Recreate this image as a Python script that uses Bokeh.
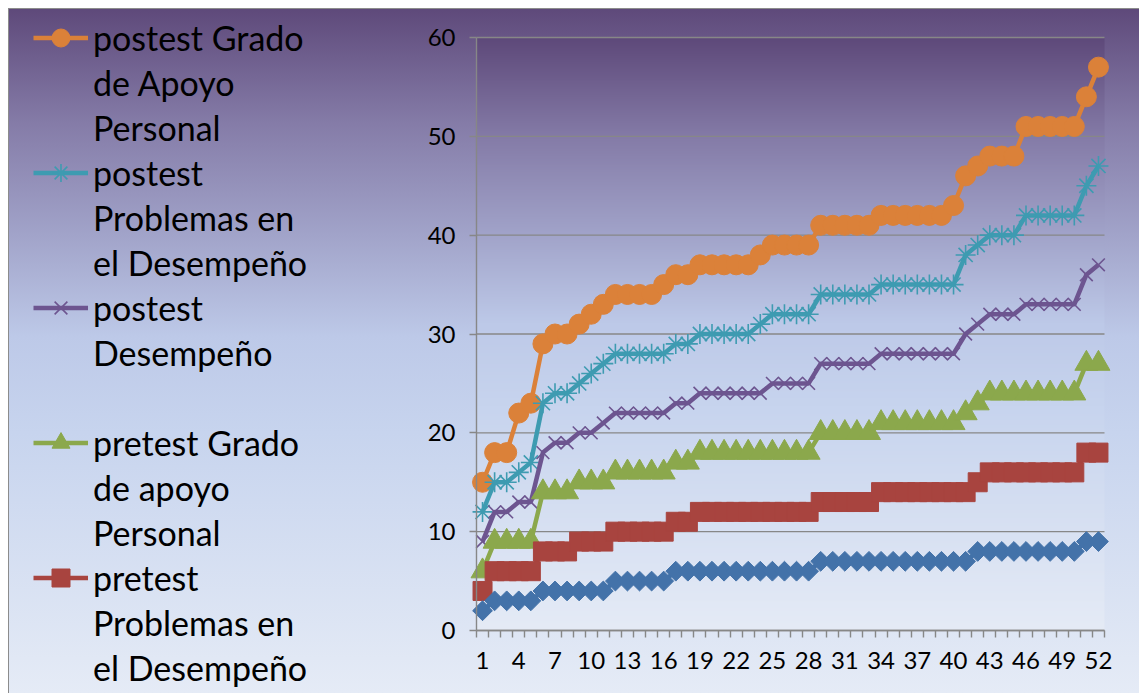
import numpy as np
from bokeh.plotting import figure
from bokeh.models import FixedTicker, Legend, LegendItem, InlineStyleSheet, Range1d
from bokeh.embed import file_html
from bokeh.resources import INLINE

# ---------------- data ----------------
x = list(range(1, 53))

postest_grado = [15, 18, 18, 22, 23, 29, 30, 30, 31, 32, 33, 34, 34, 34, 34, 35, 36, 36,
                 37, 37, 37, 37, 37, 38, 39, 39, 39, 39, 41, 41, 41, 41, 41, 42, 42, 42,
                 42, 42, 42, 43, 46, 47, 48, 48, 48, 51, 51, 51, 51, 51, 54, 57]
postest_problemas = [12, 15, 15, 16, 17, 23, 24, 24, 25, 26, 27, 28, 28, 28, 28, 28, 29, 29,
                     30, 30, 30, 30, 30, 31, 32, 32, 32, 32, 34, 34, 34, 34, 34, 35, 35, 35,
                     35, 35, 35, 35, 38, 39, 40, 40, 40, 42, 42, 42, 42, 42, 45, 47]
postest_desempeno = [9, 12, 12, 13, 13, 18, 19, 19, 20, 20, 21, 22, 22, 22, 22, 22, 23, 23,
                     24, 24, 24, 24, 24, 24, 25, 25, 25, 25, 27, 27, 27, 27, 27, 28, 28, 28,
                     28, 28, 28, 28, 30, 31, 32, 32, 32, 33, 33, 33, 33, 33, 36, 37]
pretest_grado = [6, 9, 9, 9, 9, 14, 14, 14, 15, 15, 15, 16, 16, 16, 16, 16, 17, 17,
                 18, 18, 18, 18, 18, 18, 18, 18, 18, 18, 20, 20, 20, 20, 20, 21, 21, 21,
                 21, 21, 21, 21, 22, 23, 24, 24, 24, 24, 24, 24, 24, 24, 27, 27]
pretest_problemas = [4, 6, 6, 6, 6, 8, 8, 8, 9, 9, 9, 10, 10, 10, 10, 10, 11, 11,
                     12, 12, 12, 12, 12, 12, 12, 12, 12, 12, 13, 13, 13, 13, 13, 14, 14, 14,
                     14, 14, 14, 14, 14, 15, 16, 16, 16, 16, 16, 16, 16, 16, 18, 18]
pretest_desempeno = [2, 3, 3, 3, 3, 4, 4, 4, 4, 4, 4, 5, 5, 5, 5, 5, 6, 6,
                     6, 6, 6, 6, 6, 6, 6, 6, 6, 6, 7, 7, 7, 7, 7, 7, 7, 7,
                     7, 7, 7, 7, 7, 8, 8, 8, 8, 8, 8, 8, 8, 8, 9, 9]

# legend entries as they are visible (the 6th entry falls below the chart's edge)
legend_labels = [
    ["postest Grado", "de Apoyo", "Personal"],
    ["postest", "Problemas en", "el Desempeño"],
    ["postest", "Desempeño", " "],
    ["pretest Grado", "de apoyo", "Personal"],
    ["pretest", "Problemas en", "el Desempeño"],
]
y_ticks = [0, 10, 20, 30, 40, 50, 60]
x_label_ticks = list(range(1, 53, 3))

# ---------------- styles ----------------
series = [
    (postest_grado, "#DB8139", "circle", 20, 1.0),
    (postest_problemas, "#3E9BB1", "asterisk", 20, 1.6),
    (postest_desempeno, "#6D5590", "x", 18, 1.6),
    (pretest_grado, "#8BA84C", "triangle", 23, 1.0),
    (pretest_problemas, "#A8443F", "square", 19, 1.0),
    (pretest_desempeno, "#4372A9", "square", 14, 1.0),
]

grad_stops = [(0.0, (94, 73, 122)), (0.17, (133, 124, 168)), (0.33, (161, 163, 201)),
              (0.48, (189, 201, 232)), (0.62, (199, 212, 238)), (1.0, (229, 235, 246))]
css_stops = ", ".join("rgb(%d,%d,%d) %d%%" % (c[0], c[1], c[2], round(f * 100)) for f, c in grad_stops)

# ---------------- layout (pixels inside the figure) ----------------
W, H = 1139, 693
OFF = 8                                   # chart-area offset (white band + border)
PL, PR, PT, PB = 476, 1104, 37, 630       # plot-area box
X0, X1 = 0.5, 52.5                        # category band edges
Y0, Y1 = 0, 60
kx = (PR - PL) / (X1 - X0)
ky = (PB - PT) / (Y1 - Y0)
xr = Range1d(X0 - PL / kx, X1 + (W - PR) / kx)
yr = Range1d(Y0 - (H - PB) / ky, Y1 + PT / ky)

p = figure(width=W, height=H, output_backend="svg", toolbar_location=None,
           x_range=xr, y_range=yr,
           min_border_left=0, min_border_right=0, min_border_top=0, min_border_bottom=0)
cw, ch = W - OFF, H - OFF
css = (":host { background: "
       "linear-gradient(#8c8c8c, #8c8c8c) %dpx %dpx / %dpx 1px no-repeat, "
       "linear-gradient(#8c8c8c, #8c8c8c) %dpx %dpx / 1px %dpx no-repeat, "
       "linear-gradient(to bottom, %s) %dpx %dpx / %dpx %dpx no-repeat, #ffffff; }"
       % (OFF, OFF, cw, OFF, OFF, ch, css_stops, OFF, OFF, cw, ch))
p.stylesheets = [InlineStyleSheet(css=css)]
p.background_fill_color = None
p.border_fill_color = None
p.outline_line_color = None
p.grid.visible = False

# plot-area gradient
n_rows = 600
fr = np.array([f for f, _ in grad_stops])
cols = np.array([c for _, c in grad_stops], dtype=float)
top_frac = 1.0 - (np.arange(n_rows) + 0.5) / n_rows
img = np.empty((n_rows, 2), dtype=np.uint32)
view = img.view(dtype=np.uint8).reshape((n_rows, 2, 4))
for k in range(3):
    view[:, :, k] = np.interp(top_frac, fr, cols[:, k])[:, None].astype(np.uint8)
view[:, :, 3] = 255
p.image_rgba(image=[img], x=X0, y=Y0, dw=X1 - X0, dh=Y1 - Y0, level="image")

gray = "#878787"
# horizontal gridlines limited to the plot area
p.segment(x0=[X0] * len(y_ticks), x1=[X1] * len(y_ticks), y0=y_ticks, y1=y_ticks,
          line_color=gray, line_width=1.4, level="underlay")

# axes drawn at fixed data locations
p.yaxis.fixed_location = X0
p.xaxis.fixed_location = Y0
p.yaxis.bounds = (Y0, Y1)
p.xaxis.bounds = (X0, X1)
p.yaxis.ticker = FixedTicker(ticks=y_ticks)
p.xaxis.ticker = FixedTicker(ticks=x_label_ticks, minor_ticks=[v - 0.5 for v in x] + [x[-1] + 0.5])

for ax in (p.xaxis, p.yaxis):
    ax.axis_line_color = gray
    ax.axis_line_width = 1.4
    ax.major_label_text_font = "Lato"
    ax.major_label_text_font_size = "24px"
    ax.major_label_text_color = "#000000"

p.yaxis.major_tick_line_color = gray
p.yaxis.major_tick_line_width = 1.4
p.yaxis.major_tick_out = 7
p.yaxis.major_tick_in = 0
p.yaxis.minor_tick_line_color = None
p.yaxis.major_label_standoff = 14

p.xaxis.major_tick_line_color = None
p.xaxis.major_tick_out = 0
p.xaxis.major_tick_in = 0
p.xaxis.minor_tick_line_color = gray
p.xaxis.minor_tick_line_width = 1.4
p.xaxis.minor_tick_out = 7
p.xaxis.minor_tick_in = 0
p.xaxis.major_label_standoff = 14

items = []
for i, (ys, color, marker, size, lw) in enumerate(series):
    kw = dict(marker=marker, size=size, line_color=color, fill_color=color, line_width=lw)
    if marker == "square" and size < 16:
        kw["angle"] = np.pi / 4
    ln = p.line(x, ys, line_color=color, line_width=4.5)
    sc = p.scatter(x, ys, **kw)
    if i < len(legend_labels):
        labels = legend_labels[i]
        items.append(LegendItem(label=labels[0], renderers=[ln, sc]))
        for extra in labels[1:]:
            items.append(LegendItem(label=extra, renderers=[]))

line_h = 45
n_lines = sum(len(l) for l in legend_labels)
leg_top = 14.5
legend = Legend(items=items, location=(33, H - leg_top - n_lines * line_h),
                label_text_font="Lato", label_text_font_size="34px", label_text_color="#000000",
                label_height=line_h, glyph_height=line_h, glyph_width=55, label_standoff=5,
                spacing=0, padding=0, margin=0, border_line_color=None, background_fill_alpha=0)
p.add_layout(legend)

open("out.html", "w").write(file_html(p, INLINE))
